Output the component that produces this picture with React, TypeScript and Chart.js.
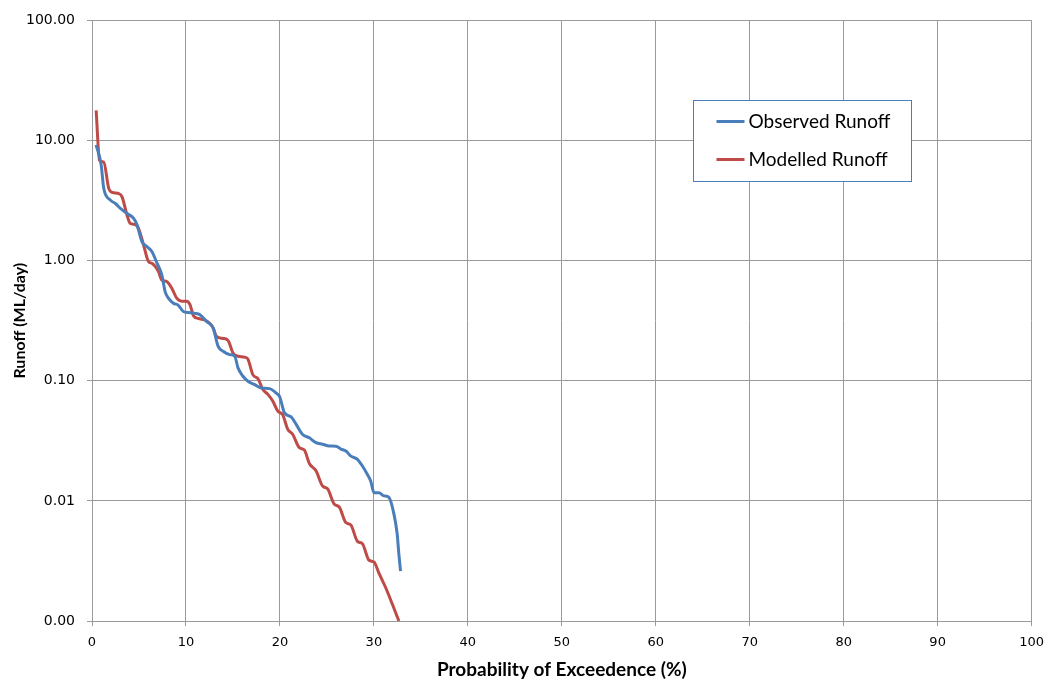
import React, { useEffect, useRef } from "react";
import { Chart, registerables } from "chart.js";

Chart.register(...registerables);

// ---- data ----
const observedX = [0.44, 0.97, 1.25, 1.96, 2.49, 3.02, 3.73, 4.43, 4.79, 5.31, 5.84, 6.37, 6.9, 7.43, 7.78, 8.13, 8.66, 9.19, 9.72, 10.25, 10.96, 11.49, 12.2, 12.9, 13.43, 13.95, 14.66, 15.19, 15.54, 16.07, 16.6, 17.31, 18.02, 18.9, 19.61, 19.96, 20.49, 21.2, 21.73, 22.42, 23.13, 23.84, 24.54, 25.25, 25.96, 26.49, 27.02, 27.55, 28.25, 28.78, 29.31, 29.67, 30.01, 30.54, 31.07, 31.6, 32.13, 32.48, 32.66, 32.84];
const observedY = [9.2, 6.3, 4.0, 3.19, 2.99, 2.72, 2.47, 2.25, 1.99, 1.44, 1.31, 1.19, 0.96, 0.76, 0.553, 0.487, 0.442, 0.425, 0.377, 0.37, 0.364, 0.354, 0.312, 0.274, 0.193, 0.176, 0.165, 0.16, 0.128, 0.109, 0.099, 0.093, 0.087, 0.086, 0.079, 0.074, 0.054, 0.05, 0.0433, 0.0357, 0.0335, 0.0305, 0.0296, 0.0286, 0.0285, 0.027, 0.026, 0.0236, 0.0222, 0.0195, 0.0166, 0.0146, 0.0117, 0.0117, 0.011, 0.0107, 0.0078, 0.0053, 0.0036, 0.0026];

const modelledX = [0.44, 0.8, 1.25, 1.78, 2.14, 2.84, 3.2, 3.73, 4.08, 4.61, 4.96, 5.49, 6.02, 6.37, 7.07, 7.43, 7.96, 8.49, 9.02, 9.55, 10.08, 10.43, 10.78, 11.31, 12.02, 12.55, 12.9, 13.25, 13.95, 14.49, 15.01, 15.54, 16.25, 16.6, 17.13, 17.66, 18.19, 18.72, 19.25, 19.78, 20.3, 20.84, 21.37, 22.07, 22.6, 23.13, 23.84, 24.54, 25.07, 25.78, 26.31, 27.02, 27.55, 28.25, 28.78, 29.49, 30.01, 30.54, 31.25, 31.95, 32.66];
const modelledY = [17.8, 6.85, 6.6, 4.0, 3.7, 3.62, 3.4, 2.39, 2.04, 2.0, 1.85, 1.35, 0.98, 0.95, 0.81, 0.69, 0.67, 0.59, 0.487, 0.46, 0.46, 0.43, 0.35, 0.33, 0.32, 0.3, 0.274, 0.234, 0.225, 0.216, 0.17, 0.16, 0.157, 0.151, 0.112, 0.104, 0.0845, 0.077, 0.0676, 0.0558, 0.052, 0.0394, 0.0357, 0.0277, 0.0265, 0.0205, 0.0178, 0.0133, 0.0126, 0.0094, 0.0089, 0.0066, 0.0063, 0.0046, 0.0044, 0.0032, 0.0031, 0.0025, 0.0019, 0.00139, 0.001];

const seriesNames = ["Observed Runoff", "Modelled Runoff"];
const yTickValues = [0.001, 0.01, 0.1, 1, 10, 100];
const yTickLabels = ["0.00", "0.01", "0.10", "1.00", "10.00", "100.00"];
const xTitle = "Probability of Exceedence (%)";
const yTitle = "Runoff (ML/day)";

const BLUE = "#4A7EBB";
const RED = "#BE4B48";
const GRID = "#9a9a9a";

const legendPlugin = {
  id: "boxLegend",
  afterDraw(chart: any) {
    const ctx = chart.ctx as CanvasRenderingContext2D;
    const left = 693.5, top = 100.5, w = 218, h = 81;
    ctx.save();
    ctx.fillStyle = "#ffffff";
    ctx.fillRect(left, top, w, h);
    ctx.strokeStyle = BLUE;
    ctx.lineWidth = 1;
    ctx.strokeRect(left, top, w, h);
    chart.data.datasets.forEach((ds: any, i: number) => {
      const y = top + 21 + i * 38;
      ctx.strokeStyle = ds.borderColor;
      ctx.lineWidth = 3;
      ctx.beginPath();
      ctx.moveTo(left + 23, y);
      ctx.lineTo(left + 51, y);
      ctx.stroke();
      ctx.fillStyle = "#000";
      ctx.font = "19px Lato";
      ctx.textBaseline = "middle";
      ctx.textAlign = "left";
      ctx.fillText(ds.label, left + 55, y);
    });
    ctx.restore();
  },
};

export default function App() {
  const ref = useRef<HTMLCanvasElement>(null);
  useEffect(() => {
    if (!ref.current) return;
    const chart = new Chart(ref.current, {
      type: "line",
      data: {
        datasets: [
          {
            label: seriesNames[0],
            data: observedX.map((x, i) => ({ x, y: observedY[i] })),
            borderColor: BLUE,
            backgroundColor: BLUE,
            borderWidth: 3,
            pointRadius: 0,
            cubicInterpolationMode: "monotone",
          },
          {
            label: seriesNames[1],
            data: modelledX.map((x, i) => ({ x, y: modelledY[i] })),
            borderColor: RED,
            backgroundColor: RED,
            borderWidth: 3,
            pointRadius: 0,
            cubicInterpolationMode: "monotone",
          },
        ],
      },
      options: {
        responsive: false,
        animation: false,
        devicePixelRatio: 1,
        layout: { padding: { left: 0, right: 17, top: 18, bottom: 0 } },
        plugins: { legend: { display: false }, tooltip: { enabled: false } },
        scales: {
          x: {
            type: "linear",
            min: 0,
            max: 100,
            afterFit: (s: any) => { s.height = 61; },
            ticks: { stepSize: 10, color: "#000", font: { family: "DejaVu Sans", size: 13 }, padding: 9, maxRotation: 0 },
            grid: { color: GRID, tickLength: 5 },
            border: { color: GRID },
            title: {
              display: true,
              text: xTitle,
              color: "#000",
              font: { family: "Lato", size: 19, weight: "bold" },
              padding: { top: 0, bottom: 1 },
            },
          },
          y: {
            type: "logarithmic",
            min: 0.001,
            max: 100,
            afterFit: (s: any) => { s.width = 92; },
            afterBuildTicks: (s: any) => { s.ticks = yTickValues.map((v) => ({ value: v })); },
            ticks: {
              color: "#000",
              font: { family: "DejaVu Sans", size: 14 },
              padding: 12,
              callback: (v: any) => {
                const i = yTickValues.findIndex((t) => Math.abs(t - Number(v)) < t * 1e-6);
                return i >= 0 ? yTickLabels[i] : "";
              },
            },
            grid: { color: GRID, tickLength: 5 },
            border: { color: GRID },
            title: {
              display: true,
              text: yTitle,
              color: "#000",
              font: { family: "Lato", size: 16, weight: "bold" },
              padding: { top: 10, bottom: 0 },
            },
          },
        },
      },
      plugins: [legendPlugin],
    } as any);
    return () => chart.destroy();
  }, []);
  return (
    <div style={{ position: "absolute", left: 0, top: 0, width: 1053, height: 682, background: "#fff" }}>
      <canvas ref={ref} width={1053} height={682} />
    </div>
  );
}
